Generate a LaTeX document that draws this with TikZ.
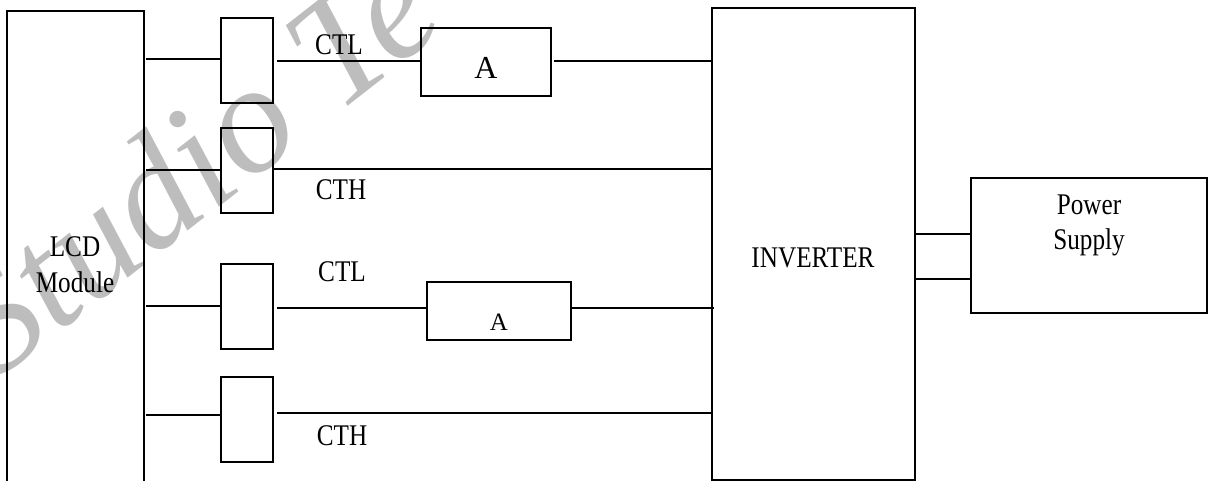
\documentclass[tikz,border=0pt]{standalone}
\usepackage{fontspec}
\setmainfont{Liberation Serif}
\newfontfamily\ming[FakeStretch=0.84]{Liberation Serif}
\newfontfamily\wmark{Liberation Serif}
\begin{document}
\begin{tikzpicture}[x=1pt,y=-1pt,
  blk/.style={draw,line width=1.7pt,inner sep=0pt,outer sep=0pt},
  wire/.style={line width=1.4pt},
  lbl/.style={font=\ming\fontsize{30}{35}\selectfont,inner sep=0pt,anchor=base},
  abox/.style={font=\fontsize{#1}{#1}\selectfont,inner sep=0pt,anchor=base}]
\useasboundingbox (0,0) rectangle (1208,481);
\clip (0,0) rectangle (1208,481);
% watermark
\node[rotate=38,anchor=base west,inner sep=0pt,text=black!26,font=\wmark\itshape\fontsize{155}{155}\selectfont] (wm) at (-5,382) {Studio Te};
% blocks
\draw[blk] (7,11) rectangle (144,500);
\coordinate (lcdR1) at (146,59);
\coordinate (lcdR2) at (146,170);
\coordinate (lcdR3) at (146,306);
\coordinate (lcdR4) at (146,415);
\node[blk,minimum width=52pt,minimum height=85pt] (s1) at (247,60.5) {};
\node[blk,minimum width=52pt,minimum height=85pt] (s2) at (247,170.5) {};
\node[blk,minimum width=52pt,minimum height=85pt] (s3) at (247,306.5) {};
\node[blk,minimum width=52pt,minimum height=85pt] (s4) at (247,419.5) {};
\node[blk,minimum width=130pt,minimum height=68pt] (a1) at (486,62) {};
\node[blk,minimum width=144pt,minimum height=58pt] (a2) at (499,311) {};
\node[blk,minimum width=203pt,minimum height=472pt] (inv) at (813.5,244) {};
\node[blk,minimum width=236pt,minimum height=135pt] (ps) at (1089,245.5) {};
% wires
\draw[wire] (lcdR1) -- (lcdR1 -| s1.west);
\draw[wire] (lcdR2) -- (lcdR2 -| s2.west);
\draw[wire] (lcdR3) -- (lcdR3 -| s3.west);
\draw[wire] (lcdR4) -- (lcdR4 -| s4.west);
\draw[wire] ([xshift=4pt]s1.east |- 0,61) -- (a1.west |- 0,61);
\draw[wire] ([xshift=3pt]a1.east |- 0,61) -- (inv.west |- 0,61);
\draw[wire] (s2.east |- 0,169) -- (inv.west |- 0,169);
\draw[wire] ([xshift=4pt]s3.east |- 0,308) -- (a2.west |- 0,308);
\draw[wire] (a2.east |- 0,308) -- ([xshift=2pt]inv.west |- 0,308);
\draw[wire] ([xshift=4pt]s4.east |- 0,413) -- (inv.west |- 0,413);
\draw[wire] (inv.east |- 0,234) -- (ps.west |- 0,234);
\draw[wire] (inv.east |- 0,279) -- (ps.west |- 0,279);
% labels
\node[lbl] (t1) at (339,55) {CTL};
\node[lbl] (t2) at (341,200) {CTH};
\node[lbl] (t3) at (342,282) {CTL};
\node[lbl] (t4) at (342,445) {CTH};
\node[lbl] (lcd1) at (75,257) {LCD};
\node[lbl] (lcd2) at (75,292) {Module};
\node[lbl] (invt) at (813,268) {INVERTER};
\node[lbl] (ps1) at (1089,215) {Power};
\node[lbl] (ps2) at (1089,250) {Supply};
\node[abox=32] (at1) at (486,79) {A};
\node[abox=25] (at2) at (499,330) {A};
\end{tikzpicture}
\end{document}
